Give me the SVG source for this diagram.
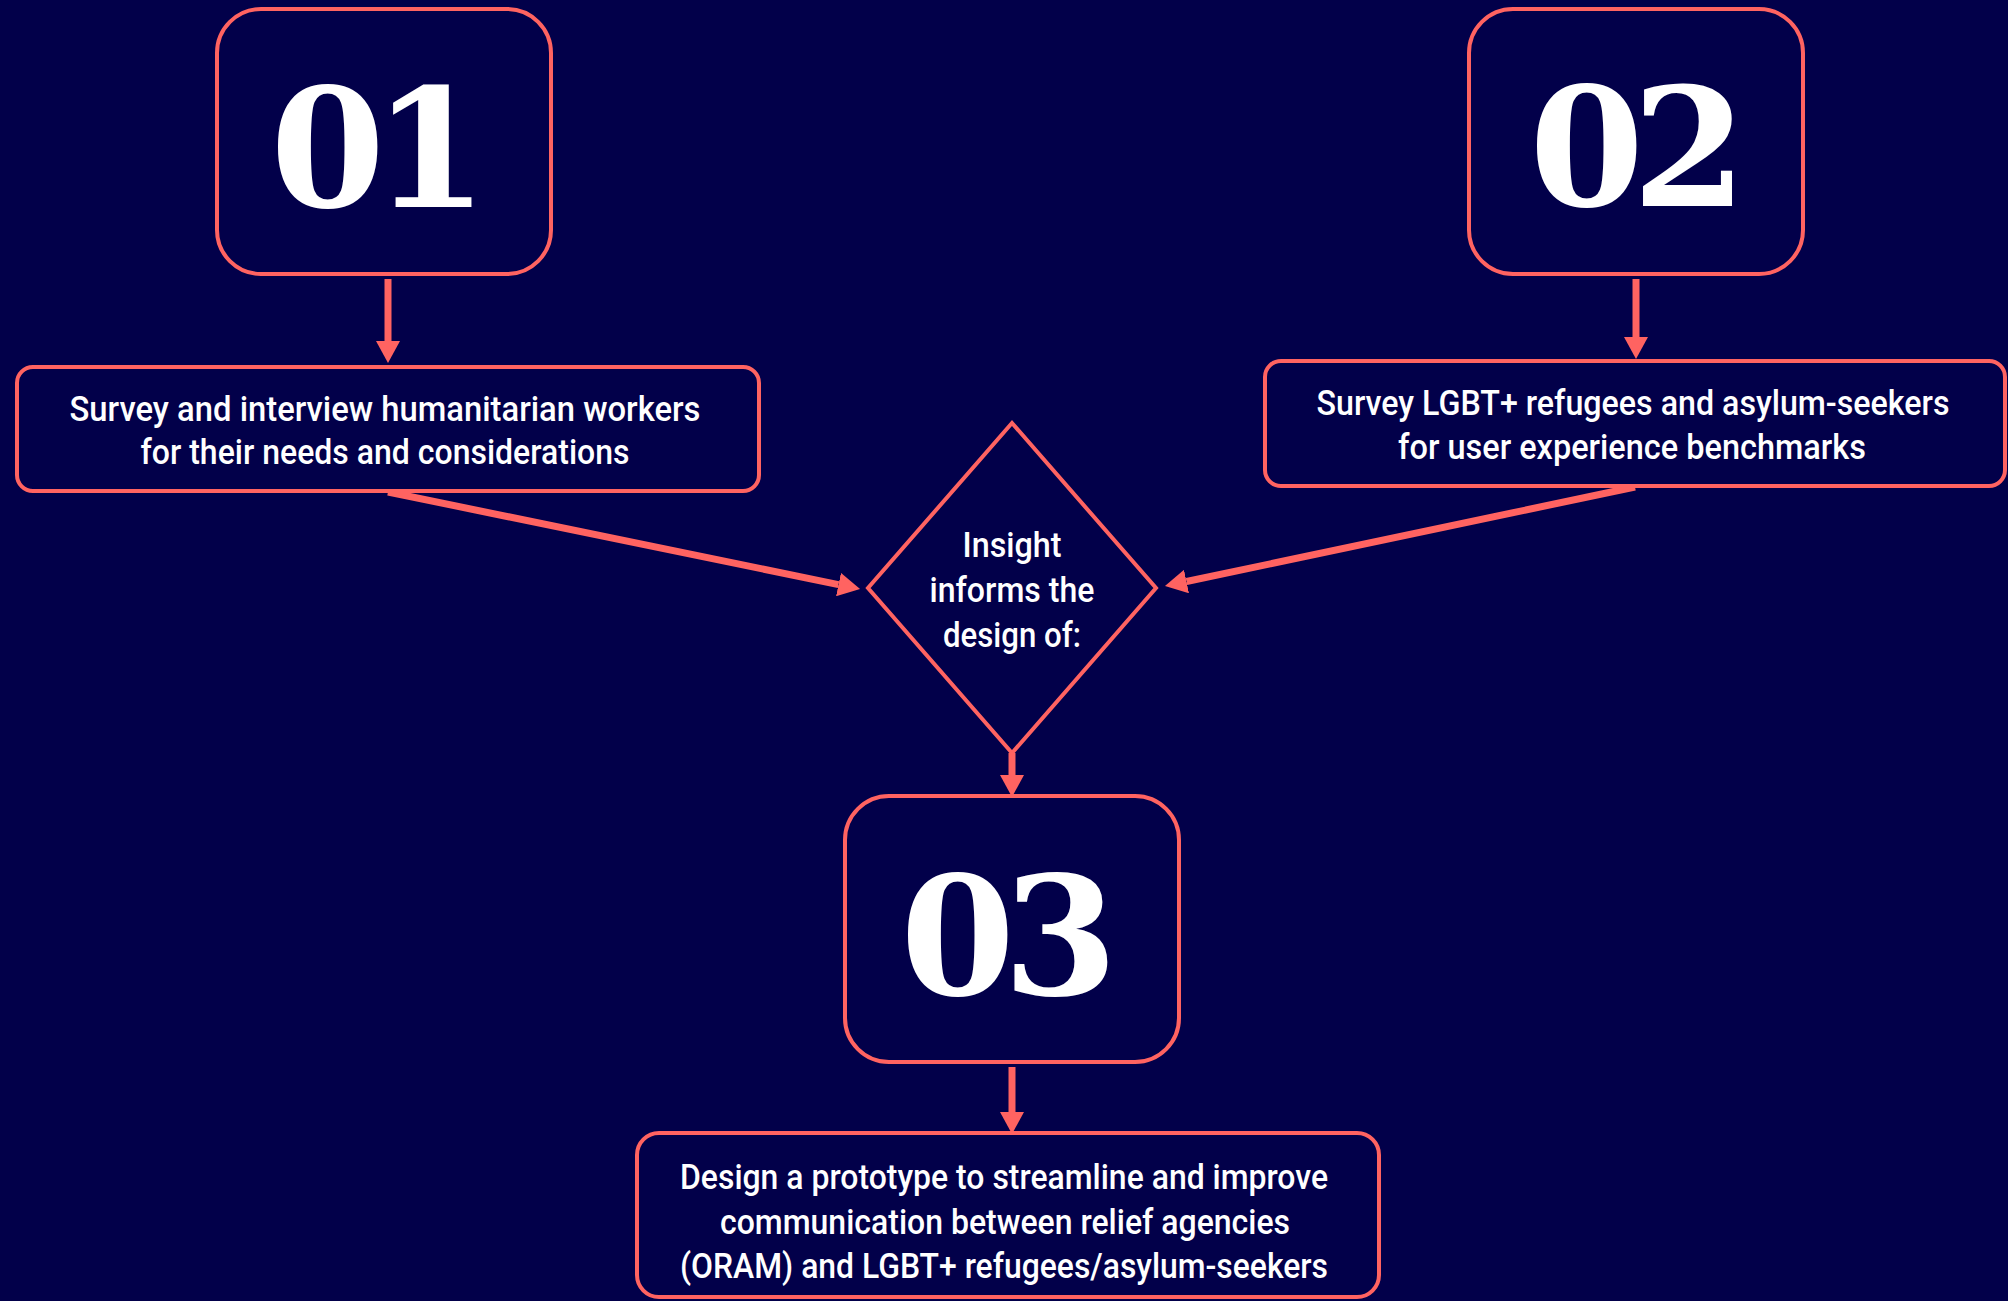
<svg xmlns="http://www.w3.org/2000/svg" width="2008" height="1301" viewBox="0 0 2008 1301">
<style>
.box{fill:#02004a;stroke:#ff6361;stroke-width:4}
.num{font-family:"DejaVu Serif",serif;font-weight:bold;font-size:165px;fill:#ffffff;letter-spacing:-12px;text-anchor:middle}
.lbl{font-family:Roboto,"Liberation Sans",sans-serif;font-size:35px;font-weight:500;fill:#ffffff;text-anchor:middle}
.edge{stroke:#ff6361;stroke-width:7;fill:none;marker-end:url(#ah)}
</style>
<defs>
<marker id="ah" viewBox="0 0 22 24" refX="0" refY="12" markerWidth="22" markerHeight="24" markerUnits="userSpaceOnUse" orient="auto">
<path d="M0,0 L22,12 L0,24 z" fill="#ff6361"/>
</marker>
</defs>
<rect width="2008" height="1301" fill="#02004a"/>
<g id="connectors">
<line class="edge" x1="388" y1="279" x2="388" y2="341"/>
<line class="edge" x1="1636" y1="279" x2="1636" y2="337"/>
<line class="edge" x1="388" y1="492" x2="838.5" y2="584.6"/>
<line class="edge" x1="1635" y1="487" x2="1186.5" y2="581.5"/>
<line class="edge" x1="1012" y1="753" x2="1012" y2="775"/>
<line class="edge" x1="1012" y1="1067" x2="1012" y2="1112"/>
</g>
<g id="n01">
<rect class="box" x="217" y="9" width="334" height="265" rx="44"/>
<text class="num" x="373" y="207">01</text>
</g>
<g id="n02">
<rect class="box" x="1469" y="9" width="334" height="265" rx="44"/>
<text class="num" x="1632" y="206">02</text>
</g>
<g id="n1a">
<rect class="box" x="17" y="367" width="742" height="124" rx="16"/>
<text class="lbl" x="385" y="421" textLength="631" lengthAdjust="spacingAndGlyphs">Survey and interview humanitarian workers</text>
<text class="lbl" x="385" y="464" textLength="489" lengthAdjust="spacingAndGlyphs">for their needs and considerations</text>
</g>
<g id="n2a">
<rect class="box" x="1265" y="361" width="740" height="125" rx="16"/>
<text class="lbl" x="1633" y="415" textLength="633" lengthAdjust="spacingAndGlyphs">Survey LGBT+ refugees and asylum-seekers</text>
<text class="lbl" x="1632" y="459" textLength="468" lengthAdjust="spacingAndGlyphs">for user experience benchmarks</text>
</g>
<g id="diamond">
<polygon class="box" points="1012,423 1156,588 1012,753 868,588"/>
<text class="lbl" x="1012" y="557" textLength="99" lengthAdjust="spacingAndGlyphs">Insight</text>
<text class="lbl" x="1012" y="602" textLength="165" lengthAdjust="spacingAndGlyphs">informs the</text>
<text class="lbl" x="1012" y="647" textLength="138" lengthAdjust="spacingAndGlyphs">design of:</text>
</g>
<g id="n03">
<rect class="box" x="845" y="796" width="334" height="266" rx="44"/>
<text class="num" x="1003" y="995">03</text>
</g>
<g id="n3a">
<rect class="box" x="637" y="1133" width="742" height="164" rx="22"/>
<text class="lbl" x="1004" y="1189" textLength="648" lengthAdjust="spacingAndGlyphs">Design a prototype to streamline and improve</text>
<text class="lbl" x="1005" y="1234" textLength="570" lengthAdjust="spacingAndGlyphs">communication between relief agencies</text>
<text class="lbl" x="1004" y="1278" textLength="648" lengthAdjust="spacingAndGlyphs">(ORAM) and LGBT+ refugees/asylum-seekers</text>
</g>
</svg>
